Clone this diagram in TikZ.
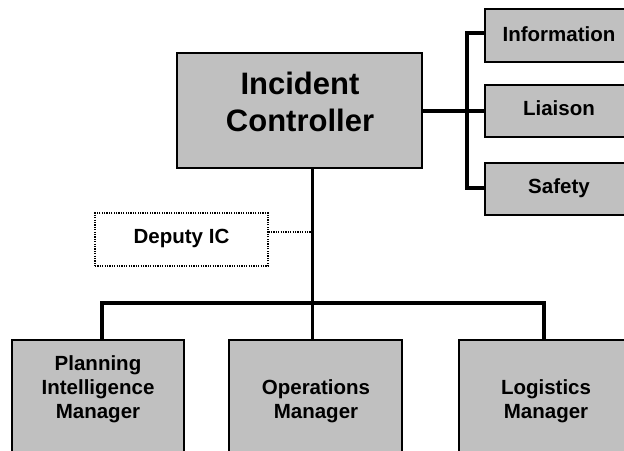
\documentclass[tikz,border=0pt]{standalone}
\usepackage{fontspec}
\setmainfont{Liberation Sans}
\usetikzlibrary{calc}
\definecolor{boxgray}{HTML}{C0C0C0}
\begin{document}
\begin{tikzpicture}[x=1pt,y=-1pt,
  box/.style={draw, line width=1.2pt, fill=boxgray, inner sep=0pt},
  dbox/.style={draw, line width=1.2pt, dash pattern=on 1.2pt off 1.2pt, fill=white, inner sep=0pt},
  lbl/.style={font=\bfseries\fontsize{20.5}{23.7}\selectfont, align=center, anchor=base, inner sep=0pt},
  biglbl/.style={font=\bfseries\fontsize{31}{37}\selectfont, align=center, anchor=base, inner sep=0pt},
  conn/.style={line width=3.6pt},
  dconn/.style={line width=1.2pt, dash pattern=on 1.2pt off 1.2pt}]
\useasboundingbox (0,0) rectangle (624,450);
\clip (0,0) rectangle (624,450);
% boxes
\node[box, line width=1.5pt, minimum width=245pt, minimum height=115pt] (ic) at (299.5,110.5) {};
\node[box, minimum width=149pt, minimum height=53pt] (info) at (559.5,35.5) {};
\node[box, minimum width=149pt, minimum height=52pt] (liai) at (559.5,111) {};
\node[box, minimum width=149pt, minimum height=52pt] (safe) at (559.5,189) {};
\node[dbox, minimum width=173pt, minimum height=53pt] (dep) at (181.5,239.5) {};
\node[box, minimum width=172pt, minimum height=130pt] (plan) at (98,405) {};
\node[box, minimum width=173pt, minimum height=130pt] (oper) at (315.5,405) {};
\node[box, minimum width=174pt, minimum height=130pt] (logi) at (546,405) {};
% labels (anchor = baseline of last line)
\node[biglbl] (tic) at (300,131) {Incident\\Controller};
\node[lbl] (tinfo) at (559,41) {Information};
\node[lbl] (tliai) at (559,115) {Liaison};
\node[lbl] (tsafe) at (559,193) {Safety};
\node[lbl] (tdep) at (181.5,243) {Deputy IC};
\node[lbl] (tplan) at (98,418) {Planning\\Intelligence\\Manager};
\node[lbl] (toper) at (316,418) {Operations\\Manager};
\node[lbl] (tlogi) at (546,418) {Logistics\\Manager};
% connector coordinates
\coordinate (trunk) at (312.5,303);
\coordinate (bleft) at (102,303);
\coordinate (bright) at (544,303);
\coordinate (brk) at (467,111);
\coordinate (dj) at (312.5,232);
% main trunk and bar
\draw[conn] (ic.south -| trunk) -- (trunk);
\draw[conn] (plan.north -| bleft) -- (bleft) -- (bright) -- (logi.north -| bright);
\draw[conn] (trunk) -- (oper.north -| trunk);
% right bracket
\draw[conn] (ic.east |- brk) -- (brk);
\draw[conn] (info.west |- 0,33) -| (brk |- 0,188) -- (safe.west |- 0,188);
\draw[conn] (brk) -- (liai.west |- brk);
% deputy
\draw[dconn] (dep.east |- dj) -- (dj);
\end{tikzpicture}
\end{document}
